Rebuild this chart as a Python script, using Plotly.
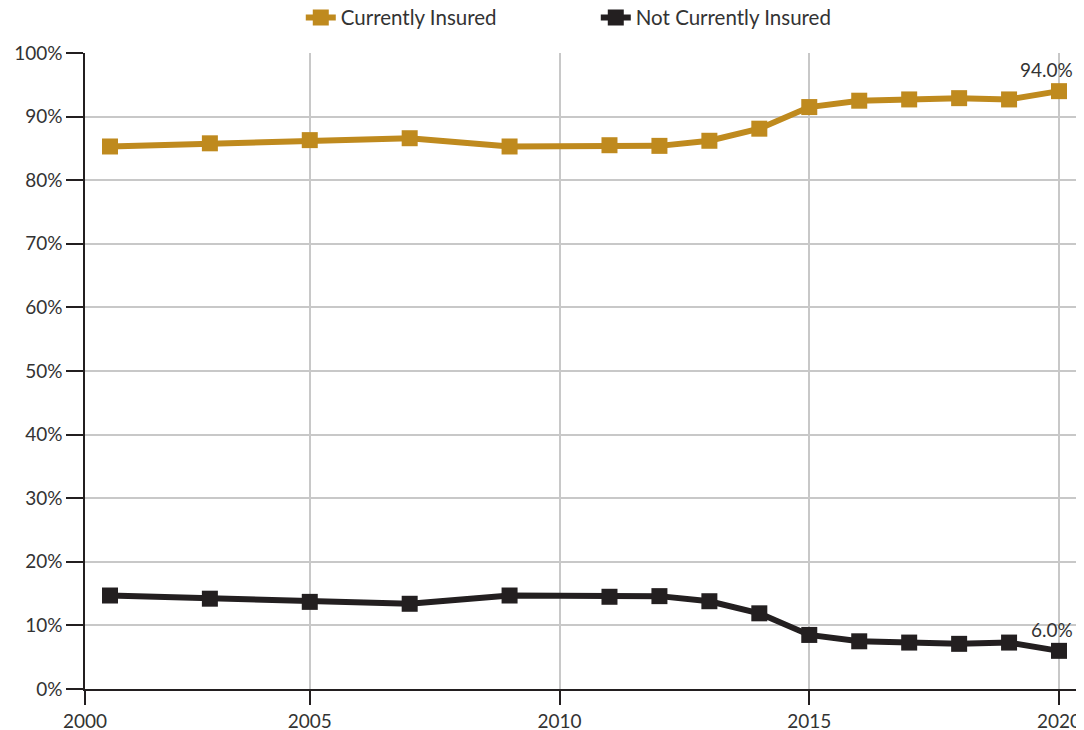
import plotly.graph_objects as go

years = [2001, 2003, 2005, 2007, 2009, 2011, 2012, 2013, 2014, 2015, 2016, 2017, 2018, 2019, 2020]
insured = [85.3, 85.8, 86.3, 86.6, 85.3, 85.5, 85.4, 86.2, 88.1, 91.5, 92.5, 92.7, 92.9, 92.7, 94.0]
not_insured = [14.7, 14.2, 13.7, 13.4, 14.7, 14.5, 14.6, 13.8, 11.9, 8.5, 7.5, 7.3, 7.1, 7.3, 6.0]
x_tickvals = [2000.5, 2005, 2010, 2015, 2020]
x_ticktext = ["2000", "2005", "2010", "2015", "2020"]
y_tickvals = [0, 10, 20, 30, 40, 50, 60, 70, 80, 90, 100]
y_ticktext = [f"{v}%" for v in y_tickvals]

GOLD = "#BF8A1E"
DARK = "#231F20"
FONT = "Lato"
TXT = "#333333"

fig = go.Figure()
fig.add_trace(go.Scatter(x=years, y=insured, name="Currently Insured", mode="lines+markers",
                         line=dict(color=GOLD, width=6),
                         marker=dict(symbol="square", size=16, color=GOLD)))
fig.add_trace(go.Scatter(x=years, y=not_insured, name="Not Currently Insured", mode="lines+markers",
                         line=dict(color=DARK, width=6),
                         marker=dict(symbol="square", size=16, color=DARK)))

fig.add_annotation(x=years[-1], y=insured[-1], text=f"{insured[-1]:.1f}%", showarrow=False,
                   xanchor="right", yanchor="bottom", xshift=16, yshift=8,
                   font=dict(family=FONT, size=19, color=TXT))
fig.add_annotation(x=years[-1], y=not_insured[-1], text=f"{not_insured[-1]:.1f}%", showarrow=False,
                   xanchor="right", yanchor="bottom", xshift=16, yshift=8,
                   font=dict(family=FONT, size=19, color=TXT))

fig.update_layout(
    width=1076, height=722,
    margin=dict(l=77, r=0, t=45, b=41, autoexpand=False),
    paper_bgcolor="white", plot_bgcolor="white",
    font=dict(family=FONT, size=19, color=TXT),
    showlegend=True,
    legend=dict(orientation="h", x=0.216, xanchor="left", y=1.087, yanchor="top",
                yref="paper", xref="paper",
                font=dict(family=FONT, size=20.5, color=TXT),
                entrywidth=250, entrywidthmode="pixels",
                bgcolor="rgba(0,0,0,0)"),
    xaxis=dict(range=[2000.5, 2020.5], tickmode="array", tickvals=x_tickvals, ticktext=x_ticktext,
               showgrid=True, gridcolor="#C8C8C8", gridwidth=1.5,
               showline=True, linecolor=DARK, linewidth=1.5,
               ticks="outside", ticklen=14, tickcolor=DARK, tickwidth=1.5,
               zeroline=False, automargin=False,
               tickfont=dict(family=FONT, size=19, color=TXT)),
    yaxis=dict(range=[0, 100], tickmode="array", tickvals=y_tickvals, ticktext=y_ticktext,
               showgrid=True, gridcolor="#C8C8C8", gridwidth=1.5,
               showline=True, linecolor=DARK, linewidth=1.5,
               ticks="outside", ticklen=17, tickcolor=DARK, tickwidth=1.5,
               zeroline=False, automargin=False,
               tickfont=dict(family=FONT, size=19, color=TXT)),
)

fig.write_html("out.html")
